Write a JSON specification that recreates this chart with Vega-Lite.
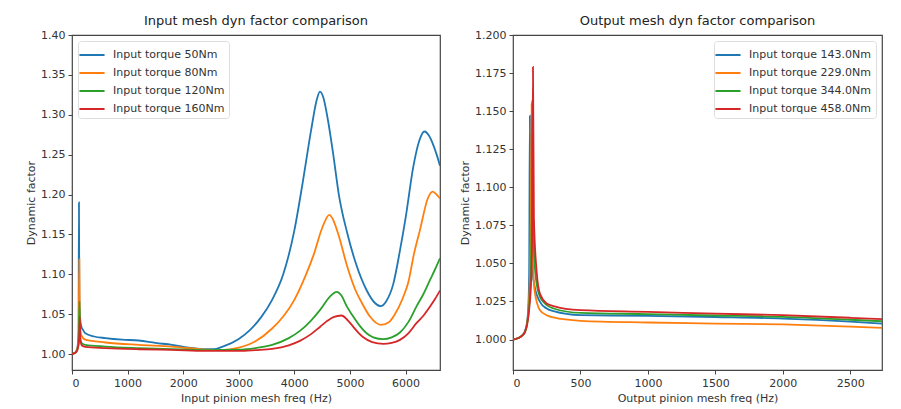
{
  "$schema": "https://vega.github.io/schema/vega-lite/v6.json",
  "background": "white",
  "padding": {"left": 24, "top": 14, "right": 5, "bottom": 0},
  "config": {
    "font": "DejaVu Sans",
    "view": {"stroke": "#444", "strokeWidth": 1.2},
    "axis": {"domain": false, "grid": false, "tickColor": "#444", "tickSize": 4, "labelFont": "DejaVu Sans", "labelFontSize": 11, "labelColor": "#333", "titleFont": "DejaVu Sans", "titleFontSize": 11, "titleFontWeight": "normal", "titleColor": "#333", "labelPadding": 3},
    "title": {"font": "DejaVu Sans", "fontSize": 13, "fontWeight": "normal", "color": "#222", "offset": 1},
    "legend": {"labelFont": "DejaVu Sans", "labelFontSize": 11, "labelColor": "#333", "symbolType": "M-1.45,0H1.45", "symbolStrokeWidth": 2, "symbolSize": 300, "rowPadding": 3, "padding": 4, "strokeColor": "#ddd", "fillColor": "white", "cornerRadius": 3, "offset": 6, "labelOffset": 11}
  },
  "datasets": {
    "left": [
      {"f":0,"v":1.000,"s":"Input torque 50Nm"},{"f":40,"v":1.001,"s":"Input torque 50Nm"},{"f":80,"v":1.004,"s":"Input torque 50Nm"},{"f":105,"v":1.012,"s":"Input torque 50Nm"},{"f":118,"v":1.03,"s":"Input torque 50Nm"},{"f":125,"v":1.19,"s":"Input torque 50Nm"},{"f":132,"v":1.07,"s":"Input torque 50Nm"},{"f":145,"v":1.045,"s":"Input torque 50Nm"},{"f":170,"v":1.034,"s":"Input torque 50Nm"},{"f":200,"v":1.030,"s":"Input torque 50Nm"},{"f":240,"v":1.026,"s":"Input torque 50Nm"},{"f":400,"v":1.022,"s":"Input torque 50Nm"},{"f":600,"v":1.020,"s":"Input torque 50Nm"},{"f":900,"v":1.018,"s":"Input torque 50Nm"},{"f":1200,"v":1.017,"s":"Input torque 50Nm"},{"f":1500,"v":1.014,"s":"Input torque 50Nm"},{"f":1800,"v":1.0115,"s":"Input torque 50Nm"},{"f":2100,"v":1.008,"s":"Input torque 50Nm"},{"f":2400,"v":1.006,"s":"Input torque 50Nm"},{"f":2550,"v":1.006,"s":"Input torque 50Nm"},{"f":2700,"v":1.009,"s":"Input torque 50Nm"},{"f":3000,"v":1.019,"s":"Input torque 50Nm"},{"f":3200,"v":1.03,"s":"Input torque 50Nm"},{"f":3400,"v":1.046,"s":"Input torque 50Nm"},{"f":3600,"v":1.068,"s":"Input torque 50Nm"},{"f":3800,"v":1.10,"s":"Input torque 50Nm"},{"f":4000,"v":1.155,"s":"Input torque 50Nm"},{"f":4150,"v":1.215,"s":"Input torque 50Nm"},{"f":4300,"v":1.28,"s":"Input torque 50Nm"},{"f":4400,"v":1.318,"s":"Input torque 50Nm"},{"f":4460,"v":1.329,"s":"Input torque 50Nm"},{"f":4520,"v":1.322,"s":"Input torque 50Nm"},{"f":4600,"v":1.295,"s":"Input torque 50Nm"},{"f":4700,"v":1.25,"s":"Input torque 50Nm"},{"f":4800,"v":1.2,"s":"Input torque 50Nm"},{"f":4950,"v":1.152,"s":"Input torque 50Nm"},{"f":5100,"v":1.115,"s":"Input torque 50Nm"},{"f":5300,"v":1.080,"s":"Input torque 50Nm"},{"f":5450,"v":1.064,"s":"Input torque 50Nm"},{"f":5550,"v":1.060,"s":"Input torque 50Nm"},{"f":5650,"v":1.066,"s":"Input torque 50Nm"},{"f":5780,"v":1.088,"s":"Input torque 50Nm"},{"f":5900,"v":1.13,"s":"Input torque 50Nm"},{"f":6000,"v":1.17,"s":"Input torque 50Nm"},{"f":6140,"v":1.235,"s":"Input torque 50Nm"},{"f":6250,"v":1.268,"s":"Input torque 50Nm"},{"f":6340,"v":1.279,"s":"Input torque 50Nm"},{"f":6420,"v":1.274,"s":"Input torque 50Nm"},{"f":6500,"v":1.262,"s":"Input torque 50Nm"},{"f":6560,"v":1.25,"s":"Input torque 50Nm"},{"f":6620,"v":1.236,"s":"Input torque 50Nm"},

      {"f":0,"v":1.000,"s":"Input torque 80Nm"},{"f":40,"v":1.001,"s":"Input torque 80Nm"},{"f":80,"v":1.004,"s":"Input torque 80Nm"},{"f":105,"v":1.010,"s":"Input torque 80Nm"},{"f":120,"v":1.025,"s":"Input torque 80Nm"},{"f":132,"v":1.119,"s":"Input torque 80Nm"},{"f":140,"v":1.04,"s":"Input torque 80Nm"},{"f":160,"v":1.025,"s":"Input torque 80Nm"},{"f":200,"v":1.020,"s":"Input torque 80Nm"},{"f":240,"v":1.018,"s":"Input torque 80Nm"},{"f":600,"v":1.0145,"s":"Input torque 80Nm"},{"f":1200,"v":1.0115,"s":"Input torque 80Nm"},{"f":1800,"v":1.0094,"s":"Input torque 80Nm"},{"f":2400,"v":1.0055,"s":"Input torque 80Nm"},{"f":2700,"v":1.005,"s":"Input torque 80Nm"},{"f":3000,"v":1.008,"s":"Input torque 80Nm"},{"f":3300,"v":1.016,"s":"Input torque 80Nm"},{"f":3600,"v":1.032,"s":"Input torque 80Nm"},{"f":3800,"v":1.047,"s":"Input torque 80Nm"},{"f":4000,"v":1.068,"s":"Input torque 80Nm"},{"f":4200,"v":1.098,"s":"Input torque 80Nm"},{"f":4350,"v":1.125,"s":"Input torque 80Nm"},{"f":4500,"v":1.158,"s":"Input torque 80Nm"},{"f":4629,"v":1.1745,"s":"Input torque 80Nm"},{"f":4700,"v":1.168,"s":"Input torque 80Nm"},{"f":4800,"v":1.148,"s":"Input torque 80Nm"},{"f":4950,"v":1.11,"s":"Input torque 80Nm"},{"f":5100,"v":1.08,"s":"Input torque 80Nm"},{"f":5200,"v":1.066,"s":"Input torque 80Nm"},{"f":5360,"v":1.047,"s":"Input torque 80Nm"},{"f":5553,"v":1.0366,"s":"Input torque 80Nm"},{"f":5700,"v":1.040,"s":"Input torque 80Nm"},{"f":5800,"v":1.049,"s":"Input torque 80Nm"},{"f":5950,"v":1.07,"s":"Input torque 80Nm"},{"f":6050,"v":1.09,"s":"Input torque 80Nm"},{"f":6150,"v":1.125,"s":"Input torque 80Nm"},{"f":6261,"v":1.156,"s":"Input torque 80Nm"},{"f":6400,"v":1.195,"s":"Input torque 80Nm"},{"f":6489,"v":1.2037,"s":"Input torque 80Nm"},{"f":6560,"v":1.200,"s":"Input torque 80Nm"},{"f":6620,"v":1.195,"s":"Input torque 80Nm"},

      {"f":0,"v":1.000,"s":"Input torque 120Nm"},{"f":40,"v":1.001,"s":"Input torque 120Nm"},{"f":80,"v":1.003,"s":"Input torque 120Nm"},{"f":105,"v":1.008,"s":"Input torque 120Nm"},{"f":122,"v":1.02,"s":"Input torque 120Nm"},{"f":135,"v":1.066,"s":"Input torque 120Nm"},{"f":145,"v":1.02,"s":"Input torque 120Nm"},{"f":170,"v":1.014,"s":"Input torque 120Nm"},{"f":240,"v":1.0115,"s":"Input torque 120Nm"},{"f":600,"v":1.0094,"s":"Input torque 120Nm"},{"f":1200,"v":1.0074,"s":"Input torque 120Nm"},{"f":1800,"v":1.006,"s":"Input torque 120Nm"},{"f":2400,"v":1.005,"s":"Input torque 120Nm"},{"f":3000,"v":1.0055,"s":"Input torque 120Nm"},{"f":3300,"v":1.0075,"s":"Input torque 120Nm"},{"f":3600,"v":1.0115,"s":"Input torque 120Nm"},{"f":3900,"v":1.02,"s":"Input torque 120Nm"},{"f":4100,"v":1.029,"s":"Input torque 120Nm"},{"f":4300,"v":1.042,"s":"Input torque 120Nm"},{"f":4460,"v":1.055,"s":"Input torque 120Nm"},{"f":4640,"v":1.072,"s":"Input torque 120Nm"},{"f":4761,"v":1.078,"s":"Input torque 120Nm"},{"f":4850,"v":1.073,"s":"Input torque 120Nm"},{"f":4941,"v":1.06,"s":"Input torque 120Nm"},{"f":5050,"v":1.048,"s":"Input torque 120Nm"},{"f":5181,"v":1.035,"s":"Input torque 120Nm"},{"f":5300,"v":1.026,"s":"Input torque 120Nm"},{"f":5420,"v":1.021,"s":"Input torque 120Nm"},{"f":5600,"v":1.0187,"s":"Input torque 120Nm"},{"f":5750,"v":1.021,"s":"Input torque 120Nm"},{"f":5900,"v":1.027,"s":"Input torque 120Nm"},{"f":6050,"v":1.04,"s":"Input torque 120Nm"},{"f":6200,"v":1.06,"s":"Input torque 120Nm"},{"f":6320,"v":1.075,"s":"Input torque 120Nm"},{"f":6441,"v":1.093,"s":"Input torque 120Nm"},{"f":6530,"v":1.106,"s":"Input torque 120Nm"},{"f":6620,"v":1.120,"s":"Input torque 120Nm"},

      {"f":0,"v":1.000,"s":"Input torque 160Nm"},{"f":40,"v":1.001,"s":"Input torque 160Nm"},{"f":80,"v":1.003,"s":"Input torque 160Nm"},{"f":105,"v":1.007,"s":"Input torque 160Nm"},{"f":125,"v":1.015,"s":"Input torque 160Nm"},{"f":140,"v":1.047,"s":"Input torque 160Nm"},{"f":150,"v":1.02,"s":"Input torque 160Nm"},{"f":175,"v":1.011,"s":"Input torque 160Nm"},{"f":240,"v":1.009,"s":"Input torque 160Nm"},{"f":600,"v":1.0074,"s":"Input torque 160Nm"},{"f":1200,"v":1.006,"s":"Input torque 160Nm"},{"f":1800,"v":1.0053,"s":"Input torque 160Nm"},{"f":2400,"v":1.004,"s":"Input torque 160Nm"},{"f":3000,"v":1.004,"s":"Input torque 160Nm"},{"f":3300,"v":1.005,"s":"Input torque 160Nm"},{"f":3600,"v":1.0065,"s":"Input torque 160Nm"},{"f":3900,"v":1.011,"s":"Input torque 160Nm"},{"f":4100,"v":1.0165,"s":"Input torque 160Nm"},{"f":4300,"v":1.025,"s":"Input torque 160Nm"},{"f":4460,"v":1.034,"s":"Input torque 160Nm"},{"f":4600,"v":1.042,"s":"Input torque 160Nm"},{"f":4702,"v":1.0463,"s":"Input torque 160Nm"},{"f":4851,"v":1.0483,"s":"Input torque 160Nm"},{"f":4950,"v":1.043,"s":"Input torque 160Nm"},{"f":5050,"v":1.035,"s":"Input torque 160Nm"},{"f":5150,"v":1.027,"s":"Input torque 160Nm"},{"f":5241,"v":1.021,"s":"Input torque 160Nm"},{"f":5400,"v":1.015,"s":"Input torque 160Nm"},{"f":5600,"v":1.0128,"s":"Input torque 160Nm"},{"f":5750,"v":1.014,"s":"Input torque 160Nm"},{"f":5900,"v":1.0178,"s":"Input torque 160Nm"},{"f":6050,"v":1.026,"s":"Input torque 160Nm"},{"f":6200,"v":1.039,"s":"Input torque 160Nm"},{"f":6320,"v":1.048,"s":"Input torque 160Nm"},{"f":6441,"v":1.0596,"s":"Input torque 160Nm"},{"f":6530,"v":1.069,"s":"Input torque 160Nm"},{"f":6620,"v":1.0796,"s":"Input torque 160Nm"}
    ],
    "right": [
      {"f":0,"v":1.000,"s":"Input torque 143.0Nm"},{"f":40,"v":1.001,"s":"Input torque 143.0Nm"},{"f":70,"v":1.003,"s":"Input torque 143.0Nm"},{"f":90,"v":1.006,"s":"Input torque 143.0Nm"},{"f":105,"v":1.012,"s":"Input torque 143.0Nm"},{"f":115,"v":1.025,"s":"Input torque 143.0Nm"},{"f":120,"v":1.045,"s":"Input torque 143.0Nm"},{"f":125,"v":1.147,"s":"Input torque 143.0Nm"},{"f":130,"v":1.09,"s":"Input torque 143.0Nm"},{"f":140,"v":1.05,"s":"Input torque 143.0Nm"},{"f":160,"v":1.035,"s":"Input torque 143.0Nm"},{"f":200,"v":1.0248,"s":"Input torque 143.0Nm"},{"f":250,"v":1.0204,"s":"Input torque 143.0Nm"},{"f":300,"v":1.0186,"s":"Input torque 143.0Nm"},{"f":500,"v":1.016,"s":"Input torque 143.0Nm"},{"f":1000,"v":1.0156,"s":"Input torque 143.0Nm"},{"f":1500,"v":1.0148,"s":"Input torque 143.0Nm"},{"f":2000,"v":1.0138,"s":"Input torque 143.0Nm"},{"f":2500,"v":1.0118,"s":"Input torque 143.0Nm"},{"f":2735,"v":1.0105,"s":"Input torque 143.0Nm"},

      {"f":0,"v":1.000,"s":"Input torque 229.0Nm"},{"f":40,"v":1.001,"s":"Input torque 229.0Nm"},{"f":70,"v":1.0028,"s":"Input torque 229.0Nm"},{"f":90,"v":1.0055,"s":"Input torque 229.0Nm"},{"f":105,"v":1.011,"s":"Input torque 229.0Nm"},{"f":115,"v":1.02,"s":"Input torque 229.0Nm"},{"f":125,"v":1.04,"s":"Input torque 229.0Nm"},{"f":132,"v":1.08,"s":"Input torque 229.0Nm"},{"f":138,"v":1.155,"s":"Input torque 229.0Nm"},{"f":145,"v":1.06,"s":"Input torque 229.0Nm"},{"f":160,"v":1.032,"s":"Input torque 229.0Nm"},{"f":200,"v":1.0193,"s":"Input torque 229.0Nm"},{"f":250,"v":1.016,"s":"Input torque 229.0Nm"},{"f":300,"v":1.0145,"s":"Input torque 229.0Nm"},{"f":500,"v":1.0123,"s":"Input torque 229.0Nm"},{"f":1000,"v":1.0112,"s":"Input torque 229.0Nm"},{"f":1500,"v":1.0105,"s":"Input torque 229.0Nm"},{"f":2000,"v":1.0099,"s":"Input torque 229.0Nm"},{"f":2500,"v":1.0085,"s":"Input torque 229.0Nm"},{"f":2735,"v":1.0077,"s":"Input torque 229.0Nm"},

      {"f":0,"v":1.000,"s":"Input torque 344.0Nm"},{"f":40,"v":1.001,"s":"Input torque 344.0Nm"},{"f":70,"v":1.0027,"s":"Input torque 344.0Nm"},{"f":90,"v":1.0053,"s":"Input torque 344.0Nm"},{"f":105,"v":1.0105,"s":"Input torque 344.0Nm"},{"f":118,"v":1.02,"s":"Input torque 344.0Nm"},{"f":132,"v":1.045,"s":"Input torque 344.0Nm"},{"f":138,"v":1.08,"s":"Input torque 344.0Nm"},{"f":143,"v":1.157,"s":"Input torque 344.0Nm"},{"f":150,"v":1.07,"s":"Input torque 344.0Nm"},{"f":170,"v":1.04,"s":"Input torque 344.0Nm"},{"f":200,"v":1.028,"s":"Input torque 344.0Nm"},{"f":250,"v":1.0226,"s":"Input torque 344.0Nm"},{"f":300,"v":1.0204,"s":"Input torque 344.0Nm"},{"f":500,"v":1.0175,"s":"Input torque 344.0Nm"},{"f":1000,"v":1.0167,"s":"Input torque 344.0Nm"},{"f":1500,"v":1.0158,"s":"Input torque 344.0Nm"},{"f":2000,"v":1.0149,"s":"Input torque 344.0Nm"},{"f":2500,"v":1.013,"s":"Input torque 344.0Nm"},{"f":2735,"v":1.012,"s":"Input torque 344.0Nm"},

      {"f":0,"v":1.000,"s":"Input torque 458.0Nm"},{"f":40,"v":1.001,"s":"Input torque 458.0Nm"},{"f":70,"v":1.0027,"s":"Input torque 458.0Nm"},{"f":90,"v":1.0052,"s":"Input torque 458.0Nm"},{"f":105,"v":1.01,"s":"Input torque 458.0Nm"},{"f":120,"v":1.02,"s":"Input torque 458.0Nm"},{"f":135,"v":1.04,"s":"Input torque 458.0Nm"},{"f":142,"v":1.07,"s":"Input torque 458.0Nm"},{"f":148,"v":1.179,"s":"Input torque 458.0Nm"},{"f":155,"v":1.08,"s":"Input torque 458.0Nm"},{"f":175,"v":1.045,"s":"Input torque 458.0Nm"},{"f":200,"v":1.030,"s":"Input torque 458.0Nm"},{"f":250,"v":1.0237,"s":"Input torque 458.0Nm"},{"f":300,"v":1.022,"s":"Input torque 458.0Nm"},{"f":500,"v":1.0193,"s":"Input torque 458.0Nm"},{"f":1000,"v":1.0182,"s":"Input torque 458.0Nm"},{"f":1500,"v":1.017,"s":"Input torque 458.0Nm"},{"f":2000,"v":1.016,"s":"Input torque 458.0Nm"},{"f":2500,"v":1.0143,"s":"Input torque 458.0Nm"},{"f":2735,"v":1.0134,"s":"Input torque 458.0Nm"}
    ]
  },
  "resolve": {"scale": {"color": "independent"}, "legend": {"color": "independent"}},
  "spacing": 17,
  "hconcat": [
    {
      "width": 368, "height": 335,
      "title": "Input mesh dyn factor comparison",
      "data": {"name": "left"},
      "mark": {"type": "line", "strokeWidth": 1.8, "clip": true, "interpolate": "monotone"},
      "encoding": {
        "x": {"field": "f", "type": "quantitative", "title": "Input pinion mesh freq (Hz)", "scale": {"domain": [0, 6620], "nice": false, "zero": false}, "axis": {"values": [0,1000,2000,3000,4000,5000,6000], "format": "d"}},
        "y": {"field": "v", "type": "quantitative", "title": "Dynamic factor", "scale": {"domain": [0.98, 1.40], "nice": false, "zero": false}, "axis": {"values": [1.0,1.05,1.1,1.15,1.2,1.25,1.3,1.35,1.4], "format": ".2f"}},
        "color": {"field": "s", "type": "nominal", "sort": ["Input torque 50Nm","Input torque 80Nm","Input torque 120Nm","Input torque 160Nm"], "scale": {"domain": ["Input torque 50Nm","Input torque 80Nm","Input torque 120Nm","Input torque 160Nm"], "range": ["#1f77b4","#ff7f0e","#2ca02c","#d62728"]}, "legend": {"title": null, "orient": "top-left"}}
      }
    },
    {
      "width": 369, "height": 335,
      "title": "Output mesh dyn factor comparison",
      "data": {"name": "right"},
      "mark": {"type": "line", "strokeWidth": 1.8, "clip": true, "interpolate": "monotone"},
      "encoding": {
        "x": {"field": "f", "type": "quantitative", "title": "Output pinion mesh freq (Hz)", "scale": {"domain": [0, 2735], "nice": false, "zero": false}, "axis": {"values": [0,500,1000,1500,2000,2500], "format": "d"}},
        "y": {"field": "v", "type": "quantitative", "title": "Dynamic factor", "scale": {"domain": [0.98, 1.2], "nice": false, "zero": false}, "axis": {"values": [1.0,1.025,1.05,1.075,1.1,1.125,1.15,1.175,1.2], "format": ".3f"}},
        "color": {"field": "s", "type": "nominal", "sort": ["Input torque 143.0Nm","Input torque 229.0Nm","Input torque 344.0Nm","Input torque 458.0Nm"], "scale": {"domain": ["Input torque 143.0Nm","Input torque 229.0Nm","Input torque 344.0Nm","Input torque 458.0Nm"], "range": ["#1f77b4","#ff7f0e","#2ca02c","#d62728"]}, "legend": {"title": null, "orient": "top-right"}}
      }
    }
  ]
}
